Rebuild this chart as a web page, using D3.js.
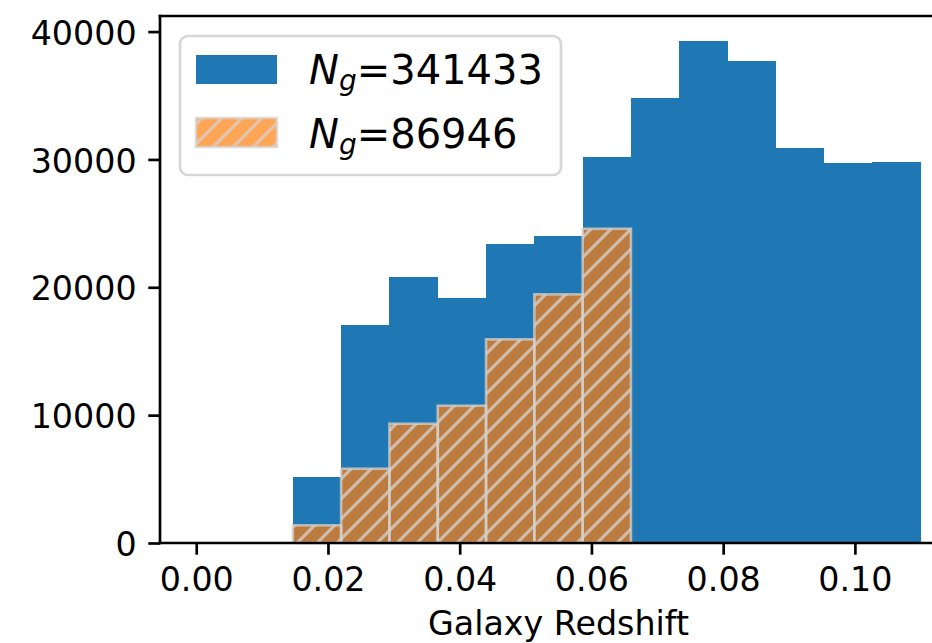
<!DOCTYPE html>
<html><head><meta charset="utf-8">
<script src="https://cdn.jsdelivr.net/npm/d3@7"></script>
<style>body{margin:0;background:#fff} svg{display:block}</style>
</head><body><svg id="c" width="932" height="643"></svg>
<script>
// ---- data ----
const binEdges = [0.014667, 0.022000, 0.029333, 0.036667, 0.044000, 0.051333, 0.058667,
                  0.066000, 0.073333, 0.080667, 0.088000, 0.095333, 0.102667, 0.110000];
const allCounts = [5161, 17047, 20801, 19159, 23381, 24007, 30208, 34798, 39256, 37691, 30888, 29715, 29793];
const subsetCounts = [1384, 5810, 9329, 10737, 15929, 19448, 24578];
const seriesNames = ["341433", "86946"];
const xTicks = [0.00, 0.02, 0.04, 0.06, 0.08, 0.10];
const yTicks = [0, 10000, 20000, 30000, 40000];
const xLabel = "Galaxy Redshift";

const FONT = "DejaVu Sans";
const blue = "#1f77b4";
const orange = "rgba(255,127,14,0.7)";
const hatchCol = "rgba(214,210,205,0.75)";

const svg = d3.select("#c");
svg.append("rect").attr("width", 932).attr("height", 643).attr("fill", "#fff");

const x = d3.scaleLinear().domain([-0.0055, 0.1155]).range([160, 957]);
const yMax = d3.max(allCounts) * 1.05;
const y = d3.scaleLinear().domain([0, yMax]).range([543, 16]);

// hatch pattern
const defs = svg.append("defs");
const pat = defs.append("pattern").attr("id", "hatch").attr("patternUnits", "userSpaceOnUse")
  .attr("width", 20).attr("height", 20);
[[0,20,20,0],[-5,5,5,-5],[15,25,25,15]].forEach(l =>
  pat.append("line").attr("x1", l[0]).attr("y1", l[1]).attr("x2", l[2]).attr("y2", l[3])
    .attr("stroke", hatchCol).attr("stroke-width", 3.2));

// blue bars
const allData = allCounts.map((c, i) => ({x0: binEdges[i], x1: binEdges[i + 1], c}));
svg.append("g").selectAll("rect").data(allData).join("rect")
  .attr("x", d => x(d.x0)).attr("width", d => x(d.x1) - x(d.x0))
  .attr("y", d => y(d.c)).attr("height", d => y(0) - y(d.c))
  .attr("fill", blue).attr("shape-rendering", "crispEdges");

// orange hatched bars
const subData = subsetCounts.map((c, i) => ({x0: binEdges[i], x1: binEdges[i + 1], c}));
const og = svg.append("g");
og.selectAll("rect.f").data(subData).join("rect").attr("class", "f")
  .attr("x", d => x(d.x0)).attr("width", d => x(d.x1) - x(d.x0))
  .attr("y", d => y(d.c)).attr("height", d => y(0) - y(d.c))
  .attr("fill", orange);
og.selectAll("rect.h").data(subData).join("rect").attr("class", "h")
  .attr("x", d => x(d.x0)).attr("width", d => x(d.x1) - x(d.x0))
  .attr("y", d => y(d.c)).attr("height", d => y(0) - y(d.c))
  .attr("fill", "url(#hatch)").attr("stroke", hatchCol).attr("stroke-width", 2.6);

// axes
const xa = svg.append("g").attr("transform", `translate(0,${y(0)})`)
  .call(d3.axisBottom(x).tickValues(xTicks).tickFormat(d3.format(".2f")).tickSize(11.7).tickPadding(13));
const ya = svg.append("g").attr("transform", `translate(${x.range()[0]},0)`)
  .call(d3.axisLeft(y).tickValues(yTicks).tickFormat(d3.format("d")).tickSize(11.7).tickPadding(11.7));
[xa, ya].forEach(a => {
  a.select(".domain").remove();
  a.selectAll("line").attr("stroke", "#000").attr("stroke-width", 2.67);
  a.selectAll("text").attr("font-family", FONT).attr("font-size", 33.3).attr("fill", "#000");
});
ya.selectAll("text").attr("dy", "0.38em");

// spines
const sp = svg.append("g").attr("stroke", "#000").attr("stroke-width", 2.67).attr("stroke-linecap", "square");
sp.append("line").attr("x1", 160).attr("x2", 160).attr("y1", y(0)).attr("y2", y(yMax));
sp.append("line").attr("x1", 160).attr("x2", 957).attr("y1", y(0)).attr("y2", y(0));
sp.append("line").attr("x1", 160).attr("x2", 957).attr("y1", y(yMax)).attr("y2", y(yMax));

// x label
svg.append("text").attr("x", (x.range()[0] + x.range()[1]) / 2).attr("y", 635)
  .attr("text-anchor", "middle").attr("font-family", FONT).attr("font-size", 33.3)
  .text(xLabel);

// legend
const lg = svg.append("g");
lg.append("rect").attr("x", 180).attr("y", 36).attr("width", 381).attr("height", 139)
  .attr("rx", 8).attr("fill", "rgba(255,255,255,0.8)").attr("stroke", "rgba(204,204,204,0.8)")
  .attr("stroke-width", 2.67);
lg.append("rect").attr("x", 196).attr("y", 55).attr("width", 81).attr("height", 29).attr("fill", blue);
lg.append("rect").attr("x", 196).attr("y", 118).attr("width", 81).attr("height", 29).attr("fill", orange);
lg.append("rect").attr("x", 196).attr("y", 118).attr("width", 81).attr("height", 29)
  .attr("fill", "url(#hatch)").attr("stroke", hatchCol).attr("stroke-width", 2.6);
seriesNames.forEach((n, i) => {
  const t = lg.append("text").attr("x", 309).attr("y", 83.5 + i * 64)
    .attr("font-family", FONT).attr("font-size", 40).attr("fill", "#000");
  t.append("tspan").attr("font-style", "italic").text("N");
  t.append("tspan").attr("font-style", "italic").attr("font-size", 28).attr("dy", 6).text("g");
  t.append("tspan").attr("dy", -6).text("=" + n);
});
</script></body></html>
